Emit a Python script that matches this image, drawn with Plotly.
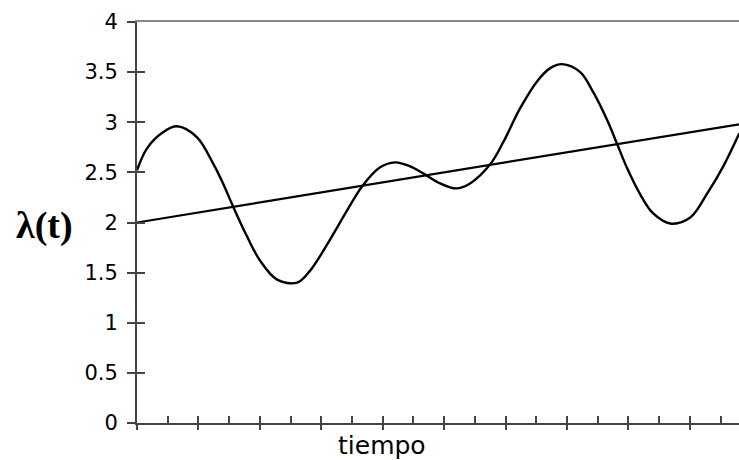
import plotly.graph_objects as go

# Wavy intensity curve lambda(t)
wave_t = [0.0, 0.163, 0.423, 0.651, 0.977, 1.238, 1.401, 1.564, 1.792, 2.003, 2.280,
          2.606, 2.818, 3.143, 3.420, 3.664, 3.958, 4.202, 4.446, 4.658, 4.935, 5.195,
          5.423, 5.749, 5.961, 6.238, 6.515, 6.726, 6.922, 7.215, 7.427, 7.655, 7.818,
          7.980, 8.192, 8.404, 8.681, 9.007, 9.283, 9.544, 9.805]
wave_v = [2.52, 2.74, 2.90, 2.96, 2.85, 2.59, 2.39, 2.16, 1.86, 1.62, 1.43,
          1.40, 1.52, 1.83, 2.12, 2.36, 2.55, 2.60, 2.56, 2.49, 2.39, 2.34,
          2.39, 2.58, 2.80, 3.14, 3.41, 3.54, 3.58, 3.50, 3.30, 3.02, 2.78,
          2.54, 2.28, 2.09, 1.99, 2.05, 2.29, 2.56, 2.89]

# Linear trend
trend_t = [0.0, 9.805]
trend_v = [2.0, 2.98]

y_ticks = [0, 0.5, 1, 1.5, 2, 2.5, 3, 3.5, 4]
y_labels = ["0", "0.5", "1", "1.5", "2", "2.5", "3", "3.5", "4"]

fig = go.Figure()
fig.add_trace(go.Scatter(x=trend_t, y=trend_v, mode="lines",
                         line=dict(color="black", width=2.2), showlegend=False))
fig.add_trace(go.Scatter(x=wave_t, y=wave_v, mode="lines", line_shape="spline",
                         line=dict(color="black", width=2.4, smoothing=1.0), showlegend=False))

axcol = "#444444"
fig.update_layout(
    width=739, height=460,
    margin=dict(l=137, r=0, t=22, b=37),
    plot_bgcolor="white", paper_bgcolor="white",
    xaxis=dict(range=[0, 9.8], showgrid=False, zeroline=False,
               showline=True, linecolor=axcol, linewidth=2,
               ticks="outside", ticklen=5, tickwidth=1.5, tickcolor=axcol,
               dtick=1, tick0=0, showticklabels=False),
    xaxis2=dict(range=[0, 9.8], overlaying="x", showgrid=False, zeroline=False,
                showline=False, ticks="inside", ticklen=7, tickwidth=1.5,
                tickcolor=axcol, dtick=0.5, tick0=0, showticklabels=False),
    xaxis3=dict(range=[0, 9.8], overlaying="x", side="top", showgrid=False,
                zeroline=False, showline=True, linecolor="#888888", linewidth=2,
                ticks="", showticklabels=False),
    yaxis=dict(range=[0, 4], showgrid=False, zeroline=False,
               showline=True, linecolor=axcol, linewidth=2,
               ticks="outside", ticklen=8, tickwidth=1.5, tickcolor=axcol,
               tickvals=y_ticks, ticktext=y_labels, ticklabelstandoff=5,
               tickfont=dict(family="DejaVu Sans", size=21, color="black")),
    yaxis2=dict(range=[0, 4], overlaying="y", showgrid=False, zeroline=False,
                showline=False, ticks="inside", ticklen=8, tickwidth=1.5,
                tickcolor=axcol, tickvals=y_ticks, showticklabels=False),
)

# dummy traces to activate overlay axes
fig.add_trace(go.Scatter(x=[None], y=[None], xaxis="x2", yaxis="y2", showlegend=False, hoverinfo="skip"))
fig.add_trace(go.Scatter(x=[None], y=[None], xaxis="x3", yaxis="y", showlegend=False, hoverinfo="skip"))

fig.add_annotation(text="<b>λ(t)</b>", xref="paper", yref="y", x=-0.153, y=1.97,
                   xanchor="center", yanchor="middle", showarrow=False,
                   font=dict(family="Liberation Serif, Times New Roman", size=38, color="black"))
fig.add_annotation(text="tiempo", xref="x", yref="paper", x=3.99, y=-0.057,
                   xanchor="center", yanchor="middle", showarrow=False,
                   font=dict(family="DejaVu Sans", size=25, color="black"))

fig.write_html("out.html")
